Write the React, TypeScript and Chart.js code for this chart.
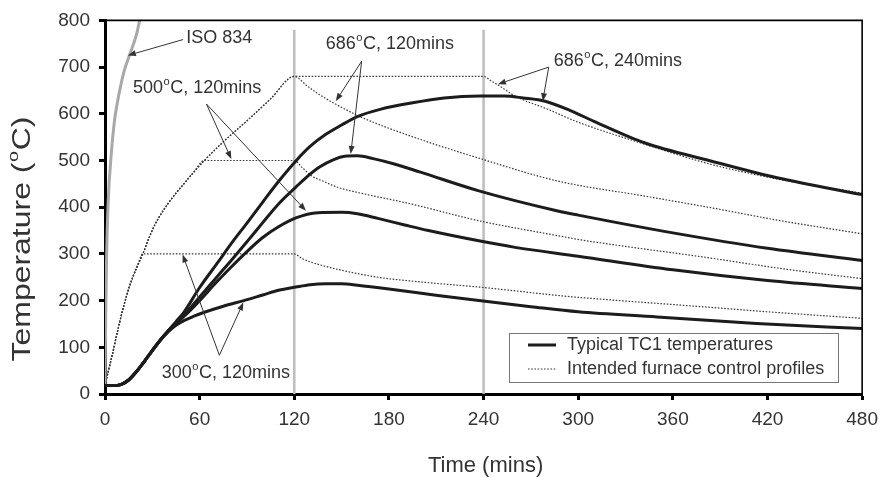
import React, { useEffect, useRef } from "react";
import { Chart, registerables } from "chart.js";

Chart.register(...registerables);

const FONT = "'Liberation Sans', Arial, Helvetica, sans-serif";

// ---- axes ----
const xTicks = [0, 60, 120, 180, 240, 300, 360, 420, 480];
const yTicks = [0, 100, 200, 300, 400, 500, 600, 700, 800];
const X_TITLE = "Time (mins)";
const Y_TITLE = "Temperature (^oC)";
const LEGEND_LABELS = ["Typical TC1 temperatures", "Intended furnace control profiles"];

// ---- ISO 834 standard fire curve ----
const isoTime = [0, 0.5, 1, 2, 4, 6, 8, 12, 16, 20, 22, 24];
const isoTemp = [20, 180, 290, 410, 515, 585, 627, 690, 730, 770, 800, 820];

// ---- Typical TC1 temperatures ----
const tc300Time = [0, 5, 10, 15, 20, 25, 30, 35, 40, 45, 50, 56, 63, 75, 88, 100, 110, 121, 130, 140, 150, 160, 180, 211, 237, 270, 300, 350, 413, 480];
const tc300Temp = [18, 18, 20, 30, 48, 70, 93, 115, 133, 147, 157, 166, 175, 188, 200, 212, 222, 229, 234, 236, 236, 233, 225, 211, 200, 187, 176, 165, 151, 140];

const tc500Time = [0, 5, 10, 15, 20, 25, 30, 35, 40, 45, 50, 60, 70, 80, 90, 100, 110, 121, 135, 150, 160, 173, 190, 205, 237, 260, 300, 360, 420, 480];
const tc500Temp = [18, 18, 20, 30, 48, 70, 93, 115, 135, 152, 166, 200, 237, 272, 305, 335, 358, 377, 388, 389, 386, 376, 362, 350, 328, 314, 295, 266, 243, 226];

const tc686aTime = [0, 5, 10, 15, 20, 25, 30, 35, 40, 45, 50, 60, 70, 80, 90, 100, 110, 121, 128, 136, 145, 152, 160, 170, 184, 200, 237, 287, 300, 360, 420, 480];
const tc686aTemp = [18, 18, 20, 30, 48, 70, 93, 115, 135, 153, 168, 208, 247, 286, 326, 367, 407, 443, 465, 486, 502, 509, 510, 504, 492, 475, 435, 392, 383, 345, 312, 286];

const tc686bTime = [0, 5, 10, 15, 20, 25, 30, 35, 40, 45, 50, 60, 72, 80, 90, 100, 110, 121, 130, 140, 150, 160, 175, 194, 215, 238, 253, 265, 279, 295, 310, 342, 384, 426, 480];
const tc686bTemp = [18, 18, 20, 30, 48, 70, 93, 115, 135, 155, 175, 228, 284, 322, 366, 411, 455, 499, 530, 556, 576, 594, 610, 623, 634, 638, 638, 634, 627, 607, 584, 538, 499, 463, 427];

// ---- Intended furnace control profiles ----
const p300Time = [0, 4, 8, 12, 16, 20, 24, 120, 125, 130, 138, 150, 173, 200, 240, 287, 300, 382, 420, 480];
const p300Temp = [20, 75, 135, 190, 235, 270, 300, 300, 290, 283, 275, 265, 250, 240, 228, 211, 207, 186, 176, 162];

const p500Time = [0, 4, 8, 12, 16, 20, 24, 28, 32, 36, 40, 45, 50, 56, 63, 120, 125, 131, 138, 148, 161, 194, 237, 287, 300, 382, 430, 480];
const p500Temp = [20, 75, 135, 190, 235, 270, 300, 335, 365, 388, 408, 430, 450, 474, 500, 500, 485, 467, 456, 442, 431, 407, 371, 339, 331, 292, 268, 247];

const p686aTime = [0, 4, 8, 12, 16, 20, 24, 28, 32, 36, 40, 45, 50, 56, 63, 75, 90, 105, 120, 128, 136, 145, 161, 173, 200, 237, 287, 340, 384, 430, 480];
const p686aTemp = [20, 75, 135, 190, 235, 270, 300, 335, 365, 388, 408, 430, 450, 474, 500, 540, 585, 632, 680, 660, 641, 623, 595, 578, 545, 505, 456, 425, 399, 370, 343];

const p686bTime = [0, 4, 8, 12, 16, 20, 24, 28, 32, 36, 40, 45, 50, 56, 63, 75, 90, 105, 120, 240, 245, 250, 258, 265, 279, 300, 342, 384, 430, 480];
const p686bTemp = [20, 75, 135, 190, 235, 270, 300, 335, 365, 388, 408, 430, 450, 474, 500, 540, 585, 632, 680, 680, 670, 660, 642, 630, 612, 582, 535, 492, 458, 430];

// ---- reference lines at the end of the 120 / 240 min holds ----
const holdTimes = [120, 240];
const holdLineTop = 780;

// ---- annotations (data coordinates) ----
const ANNOTATIONS = [
  { text: "ISO 834", at: [51.5, 762], from: [49.5, 759], to: [[14.5, 725]] },
  { text: "500^oC, 120mins", at: [17.7, 655], from: [64.3, 621], to: [[80.1, 503], [127.4, 392.5]] },
  { text: "686^oC, 120mins", at: [140, 749], from: [162.7, 712.5], to: [[146.3, 627], [155.8, 514]] },
  { text: "686^oC, 240mins", at: [284.5, 712.5], from: [281.3, 700], to: [[249.1, 663.5], [277.5, 627]] },
  { text: "300^oC, 120mins", at: [36, 45], from: [72.5, 83], to: [[49.2, 298.7], [87.7, 196]] },
];

const pts = (xs: number[], ys: number[]) => xs.map((x, i) => ({ x, y: ys[i] }));

const TC_STYLE = { borderColor: "#1c1c1c", borderWidth: 3, cubicInterpolationMode: "monotone", pointRadius: 0, fill: false };
const PROFILE_STYLE = { borderColor: "#3a3a3a", borderWidth: 1.2, borderDash: [1.6, 1.6], cubicInterpolationMode: "monotone", pointRadius: 0, fill: false };

function setFont(ctx: CanvasRenderingContext2D, size: number) {
  ctx.font = `${size}px ${FONT}`;
}

function richWidth(ctx: CanvasRenderingContext2D, text: string, size: number) {
  const parts = text.split("^o");
  let w = 0;
  parts.forEach((p, i) => {
    setFont(ctx, size);
    w += ctx.measureText(p).width;
    if (i < parts.length - 1) {
      setFont(ctx, size * 0.62);
      w += ctx.measureText("o").width + 1;
    }
  });
  return w;
}

function drawRich(ctx: CanvasRenderingContext2D, text: string, x: number, y: number, size: number) {
  ctx.textBaseline = "middle";
  ctx.textAlign = "left";
  const parts = text.split("^o");
  let cx = x;
  parts.forEach((p, i) => {
    setFont(ctx, size);
    ctx.fillText(p, cx, y);
    cx += ctx.measureText(p).width;
    if (i < parts.length - 1) {
      setFont(ctx, size * 0.62);
      ctx.fillText("o", cx + 0.5, y - size * 0.36);
      cx += ctx.measureText("o").width + 1;
    }
  });
}

function arrow(ctx: CanvasRenderingContext2D, x1: number, y1: number, x2: number, y2: number) {
  const ang = Math.atan2(y2 - y1, x2 - x1);
  const len = 8, hw = 3;
  const bx = x2 - Math.cos(ang) * len, by = y2 - Math.sin(ang) * len;
  ctx.beginPath();
  ctx.moveTo(x1, y1);
  ctx.lineTo(bx, by);
  ctx.stroke();
  ctx.beginPath();
  ctx.moveTo(x2, y2);
  ctx.lineTo(bx + Math.sin(ang) * hw, by - Math.cos(ang) * hw);
  ctx.lineTo(bx - Math.sin(ang) * hw, by + Math.cos(ang) * hw);
  ctx.closePath();
  ctx.fill();
}

const decorPlugin = {
  id: "decor",
  afterDatasetsDraw(chart: any) {
    const ctx: CanvasRenderingContext2D = chart.ctx;
    const { left, right, top, bottom } = chart.chartArea;
    const xs = chart.scales.x, ys = chart.scales.y;
    ctx.save();
    // frame top/right
    ctx.strokeStyle = "#000";
    ctx.lineWidth = 1.6;
    ctx.beginPath();
    ctx.moveTo(left, top);
    ctx.lineTo(right, top);
    ctx.lineTo(right, bottom);
    ctx.stroke();

    // annotations
    ctx.fillStyle = "#333";
    ctx.strokeStyle = "#333";
    ctx.lineWidth = 1;
    ANNOTATIONS.forEach((a) => {
      drawRich(ctx, a.text, xs.getPixelForValue(a.at[0]), ys.getPixelForValue(a.at[1]), 18);
      const fx = xs.getPixelForValue(a.from[0]), fy = ys.getPixelForValue(a.from[1]);
      a.to.forEach((t) => arrow(ctx, fx, fy, xs.getPixelForValue(t[0]), ys.getPixelForValue(t[1])));
    });

    // legend
    const lx = 509, ly = 333, lw = 329, lh = 49;
    ctx.fillStyle = "#fff";
    ctx.fillRect(lx, ly, lw, lh);
    ctx.strokeStyle = "#777";
    ctx.lineWidth = 1;
    ctx.strokeRect(lx + 0.5, ly + 0.5, lw, lh);
    ctx.strokeStyle = "#1c1c1c";
    ctx.lineWidth = 3;
    ctx.beginPath();
    ctx.moveTo(528, 345);
    ctx.lineTo(556, 345);
    ctx.stroke();
    ctx.strokeStyle = "#3a3a3a";
    ctx.lineWidth = 1.2;
    ctx.setLineDash([1.6, 1.6]);
    ctx.beginPath();
    ctx.moveTo(528, 369);
    ctx.lineTo(556, 369);
    ctx.stroke();
    ctx.setLineDash([]);
    ctx.fillStyle = "#333";
    drawRich(ctx, LEGEND_LABELS[0], 567, 345, 18);
    drawRich(ctx, LEGEND_LABELS[1], 567, 369, 18);

    // axis titles
    const tx = (left + right) / 2 + 2;
    const xw = richWidth(ctx, X_TITLE, 22);
    drawRich(ctx, X_TITLE, tx - xw / 2, 466, 22);
    ctx.save();
    ctx.translate(23, 239);
    ctx.rotate(-Math.PI / 2);
    const yw = richWidth(ctx, Y_TITLE, 25);
    const stretch = 245 / yw;
    ctx.scale(stretch, 1);
    drawRich(ctx, Y_TITLE, -yw / 2, 0, 25);
    ctx.restore();
    ctx.restore();
  },
};

export default function App() {
  const ref = useRef<HTMLCanvasElement>(null);
  useEffect(() => {
    const datasets: any[] = [
      { label: "TC 686/240", data: pts(tc686bTime, tc686bTemp), ...TC_STYLE },
      { label: "TC 686/120", data: pts(tc686aTime, tc686aTemp), ...TC_STYLE },
      { label: "TC 500", data: pts(tc500Time, tc500Temp), ...TC_STYLE },
      { label: "TC 300", data: pts(tc300Time, tc300Temp), ...TC_STYLE },
      { label: "ISO 834", data: pts(isoTime, isoTemp), borderColor: "#a8a8a8", borderWidth: 3, cubicInterpolationMode: "monotone", pointRadius: 0, clip: 0 },
      { label: "Profile 686/240", data: pts(p686bTime, p686bTemp), ...PROFILE_STYLE },
      { label: "Profile 686/120", data: pts(p686aTime, p686aTemp), ...PROFILE_STYLE },
      { label: "Profile 500", data: pts(p500Time, p500Temp), ...PROFILE_STYLE },
      { label: "Profile 300", data: pts(p300Time, p300Temp), ...PROFILE_STYLE },
      ...holdTimes.map((t) => ({
        label: `hold ${t}`,
        data: [{ x: t, y: 0 }, { x: t, y: holdLineTop }],
        borderColor: "#bdbdbd",
        borderWidth: 2.5,
        pointRadius: 0,
      })),
    ];
    const chart = new Chart(ref.current!, {
      type: "line",
      data: { datasets },
      options: {
        animation: false,
        responsive: false,
        events: [],
        layout: { padding: { top: 19, right: 20, left: 0, bottom: 0 } },
        plugins: { legend: { display: false }, tooltip: { enabled: false } },
        scales: {
          x: {
            type: "linear",
            min: 0,
            max: 480,
            afterFit: (s: any) => { s.height = 84; },
            afterBuildTicks: (s: any) => { s.ticks = xTicks.map((v) => ({ value: v })); },
            ticks: { color: "#333", font: { family: FONT, size: 19 }, padding: 8, maxRotation: 0, autoSkip: false },
            grid: { drawOnChartArea: false, tickLength: 6, tickWidth: 3, tickColor: "#000" },
            border: { color: "#000", width: 3 },
          },
          y: {
            type: "linear",
            min: 0,
            max: 800,
            afterFit: (s: any) => { s.width = 105; },
            afterBuildTicks: (s: any) => { s.ticks = yTicks.map((v) => ({ value: v })); },
            ticks: { color: "#333", font: { family: FONT, size: 19 }, padding: 9, autoSkip: false },
            grid: { drawOnChartArea: false, tickLength: 6, tickWidth: 3, tickColor: "#000" },
            border: { color: "#000", width: 3 },
          },
        },
      },
      plugins: [decorPlugin],
    } as any);
    return () => chart.destroy();
  }, []);
  return (
    <div style={{ position: "fixed", left: 0, top: 0, width: 886, height: 478, background: "#fff" }}>
      <canvas ref={ref} width={886} height={478} style={{ display: "block" }} />
    </div>
  );
}
